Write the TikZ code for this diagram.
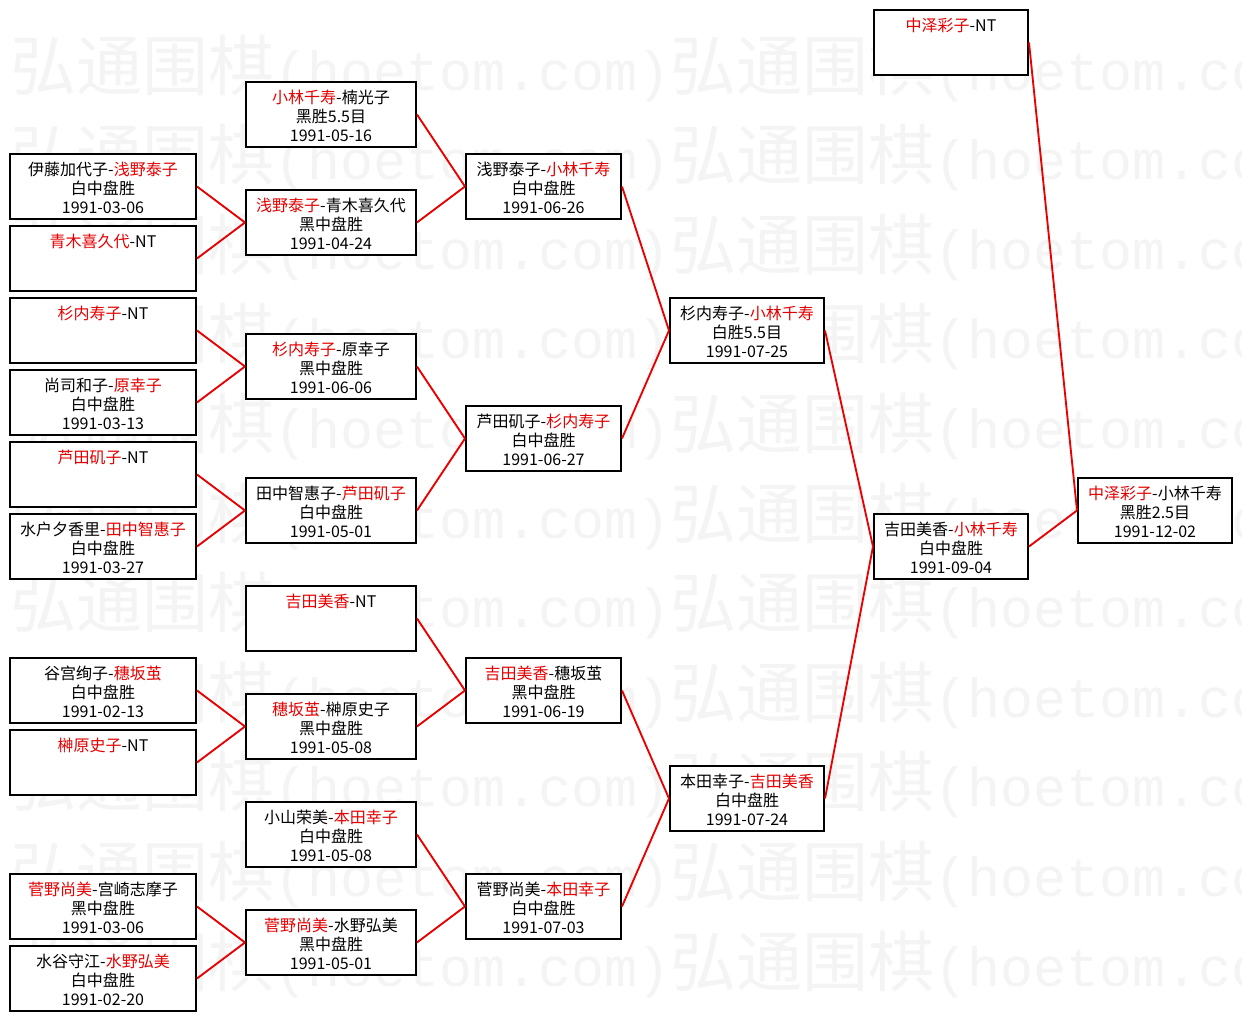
\documentclass[tikz,border=0pt]{standalone}
\usepackage{fontspec}
\setmainfont{Noto Sans CJK SC}
\newfontfamily\wmcjk{Noto Sans CJK SC}
\newfontfamily\wmlat{Liberation Mono}
\definecolor{tred}{RGB}{228,0,0}
\definecolor{lred}{RGB}{235,0,0}
\definecolor{wmgray}{RGB}{244,244,244}
\newcommand\R[1]{\textcolor{tred}{#1}}
\newcommand\mtxt[4]{\parbox[c][48.75pt][t]{#1}{\centering\baselineskip=14.25pt\lineskiplimit=-30pt\lineskip=0pt\rule{0pt}{15.75pt}#2\\\mbox{}#3\\\mbox{}#4}}
\newcommand\game[6]{\node[box, minimum width=#3] (#1) at (#2) {\mtxt{#3}{#4}{#5}{#6}};}
\tikzset{
  box/.style={draw=black, line width=1.5pt, inner sep=0pt, minimum height=48.75pt, fill=white,
    font=\fontsize{12pt}{14.25pt}\selectfont},
  conn/.style={draw=lred, line width=1.4pt},
  wm/.style={inner sep=0pt, anchor=base west, text=wmgray}
}
\begin{document}
\begin{tikzpicture}[x=0.75pt, y=-0.75pt]
\fill[white] (0,0) rectangle (1242,1021);
\useasboundingbox (0,0) rectangle (1242,1021);
% watermark
\begin{scope}
\clip (0,0) rectangle (1242,1021);
\foreach \k in {0,...,10}{
  \foreach \i in {0,1}{
    \node[wm] (wm-\k-\i) at ({10+660*\i},{90+89.6*\k})
      {\fontsize{49.5pt}{52pt}\wmcjk 弘通围棋\fontsize{41.25pt}{52pt}\wmlat (hoetom.com)};
  }
}
\end{scope}
% column 1
\game{b1}{103,186.5}{139.5pt}{伊藤加代子-\R{浅野泰子}}{白中盘胜}{1991-03-06}
\game{b2}{103,258.5}{139.5pt}{\R{青木喜久代}-NT}{}{}
\game{b3}{103,330.5}{139.5pt}{\R{杉内寿子}-NT}{}{}
\game{b4}{103,402.5}{139.5pt}{尚司和子-\R{原幸子}}{白中盘胜}{1991-03-13}
\game{b5}{103,474.5}{139.5pt}{\R{芦田矶子}-NT}{}{}
\game{b6}{103,546.5}{139.5pt}{水户夕香里-\R{田中智惠子}}{白中盘胜}{1991-03-27}
\game{b7}{103,690.5}{139.5pt}{谷宫绚子-\R{穗坂茧}}{白中盘胜}{1991-02-13}
\game{b8}{103,762.5}{139.5pt}{\R{榊原史子}-NT}{}{}
\game{b9}{103,906.5}{139.5pt}{\R{菅野尚美}-宫崎志摩子}{黑中盘胜}{1991-03-06}
\game{b10}{103,978.5}{139.5pt}{水谷守江-\R{水野弘美}}{白中盘胜}{1991-02-20}
% column 2
\game{c1}{331,114.5}{127.5pt}{\R{小林千寿}-楠光子}{黑胜5.5目}{1991-05-16}
\game{c2}{331,222.5}{127.5pt}{\R{浅野泰子}-青木喜久代}{黑中盘胜}{1991-04-24}
\game{c3}{331,366.5}{127.5pt}{\R{杉内寿子}-原幸子}{黑中盘胜}{1991-06-06}
\game{c4}{331,510.5}{127.5pt}{田中智惠子-\R{芦田矶子}}{白中盘胜}{1991-05-01}
\game{c5}{331,618.5}{127.5pt}{\R{吉田美香}-NT}{}{}
\game{c6}{331,726.5}{127.5pt}{\R{穗坂茧}-榊原史子}{黑中盘胜}{1991-05-08}
\game{c7}{331,834.5}{127.5pt}{小山荣美-\R{本田幸子}}{白中盘胜}{1991-05-08}
\game{c8}{331,942.5}{127.5pt}{\R{菅野尚美}-水野弘美}{黑中盘胜}{1991-05-01}
% column 3
\game{d1}{543.5,186.5}{116.25pt}{浅野泰子-\R{小林千寿}}{白中盘胜}{1991-06-26}
\game{d2}{543.5,438.5}{116.25pt}{芦田矶子-\R{杉内寿子}}{白中盘胜}{1991-06-27}
\game{d3}{543.5,690.5}{116.25pt}{\R{吉田美香}-穗坂茧}{黑中盘胜}{1991-06-19}
\game{d4}{543.5,906.5}{116.25pt}{菅野尚美-\R{本田幸子}}{白中盘胜}{1991-07-03}
% column 4
\game{e1}{747,330.5}{115.5pt}{杉内寿子-\R{小林千寿}}{白胜5.5目}{1991-07-25}
\game{e2}{747,798.5}{115.5pt}{本田幸子-\R{吉田美香}}{白中盘胜}{1991-07-24}
% column 5
\game{f0}{951,42.5}{115.5pt}{\R{中泽彩子}-NT}{}{}
\game{f1}{951,546.5}{115.5pt}{吉田美香-\R{小林千寿}}{白中盘胜}{1991-09-04}
% column 6
\game{g}{1155,510.5}{115.5pt}{\R{中泽彩子}-小林千寿}{黑胜2.5目}{1991-12-02}
% connectors
\draw[conn] (b1.east) -- (c2.west);
\draw[conn] (b2.east) -- (c2.west);
\draw[conn] (b3.east) -- (c3.west);
\draw[conn] (b4.east) -- (c3.west);
\draw[conn] (b5.east) -- (c4.west);
\draw[conn] (b6.east) -- (c4.west);
\draw[conn] (b7.east) -- (c6.west);
\draw[conn] (b8.east) -- (c6.west);
\draw[conn] (b9.east) -- (c8.west);
\draw[conn] (b10.east) -- (c8.west);
\draw[conn] (c1.east) -- (d1.west);
\draw[conn] (c2.east) -- (d1.west);
\draw[conn] (c3.east) -- (d2.west);
\draw[conn] (c4.east) -- (d2.west);
\draw[conn] (c5.east) -- (d3.west);
\draw[conn] (c6.east) -- (d3.west);
\draw[conn] (c7.east) -- (d4.west);
\draw[conn] (c8.east) -- (d4.west);
\draw[conn] (d1.east) -- (e1.west);
\draw[conn] (d2.east) -- (e1.west);
\draw[conn] (d3.east) -- (e2.west);
\draw[conn] (d4.east) -- (e2.west);
\draw[conn] (e1.east) -- (f1.west);
\draw[conn] (e2.east) -- (f1.west);
\draw[conn] (f0.east) -- (g.west);
\draw[conn] (f1.east) -- (g.west);
\end{tikzpicture}
\end{document}
